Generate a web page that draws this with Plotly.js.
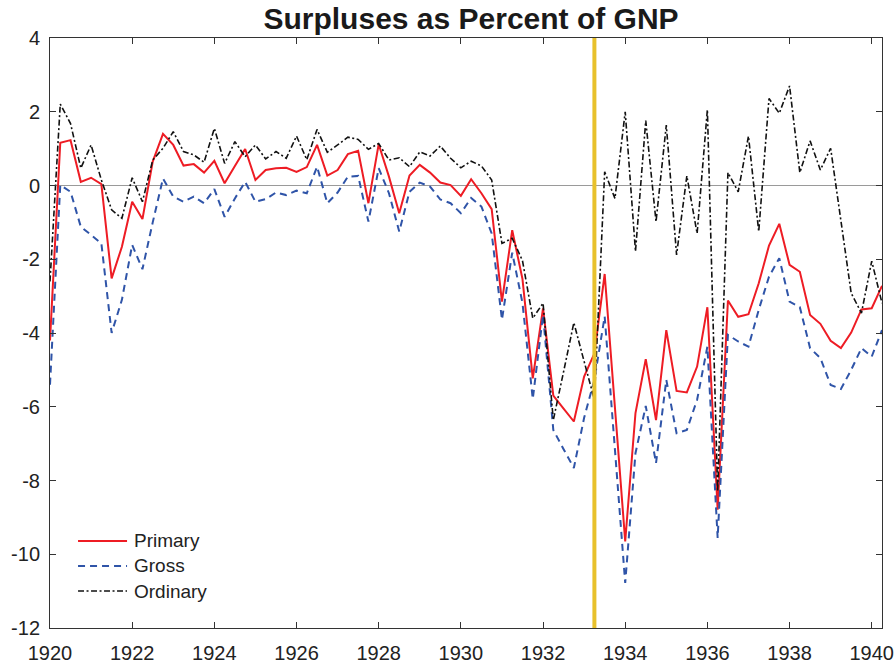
<!DOCTYPE html>
<html>
<head>
<meta charset="utf-8">
<script src="https://cdn.plot.ly/plotly-3.0.1.min.js"></script>
<style>html,body{margin:0;padding:0;background:#fff;}#chart{width:896px;height:666px;}</style>
</head>
<body>
<div id="chart"></div>
<script>
// Quarterly observations, first quarter 1920 through second quarter 1940
var startYear = 1920;
var seriesNames = ["Primary", "Gross", "Ordinary"];
var primary = [-4.2, 1.16, 1.23, 0.10, 0.21, 0.04, -2.52, -1.66, -0.44, -0.91,
  0.65, 1.40, 1.10, 0.54, 0.58, 0.35, 0.67, 0.06, 0.53, 0.99,
  0.15, 0.42, 0.47, 0.48, 0.37, 0.50, 1.10, 0.27, 0.42, 0.85,
  0.94, -0.48, 1.12, 0.24, -0.75, 0.27, 0.56, 0.35, 0.08, 0.01,
  -0.28, 0.17, -0.21, -0.64, -3.15, -1.21, -2.54, -5.23, -3.33, -5.70,
  -6.05, -6.40, -5.18, -4.55, -2.40, -6.0, -9.65, -6.17, -4.71, -6.36,
  -3.92, -5.57, -5.61, -4.91, -3.30, -8.79, -3.12, -3.56, -3.49, -2.65,
  -1.63, -1.04, -2.15, -2.34, -3.51, -3.75, -4.21, -4.41, -3.99, -3.36,
  -3.33, -2.72];
var gross = [-5.4, 0.01, -0.17, -1.12, -1.34, -1.57, -4.0, -3.1, -1.61, -2.27,
  -1.0, 0.19, -0.30, -0.44, -0.30, -0.48, -0.10, -0.85, -0.35, 0.10,
  -0.44, -0.37, -0.19, -0.26, -0.14, -0.21, 0.51, -0.48, -0.19, 0.24,
  0.26, -0.98, 0.47, -0.21, -1.25, -0.17, 0.08, -0.03, -0.38, -0.48,
  -0.75, -0.34, -0.57, -1.30, -3.64, -1.82, -3.19, -5.79, -3.51, -6.63,
  -7.15, -7.66, -6.3, -5.27, -3.55, -7.2, -10.78, -7.26, -5.98, -7.53,
  -5.27, -6.72, -6.63, -5.81, -4.37, -9.56, -4.05, -4.23, -4.37, -3.37,
  -2.47, -1.97, -3.15, -3.30, -4.41, -4.68, -5.41, -5.52, -5.00, -4.41,
  -4.64, -3.92];
var ordinary = [-2.6, 2.21, 1.68, 0.47, 1.10, 0.15, -0.66, -0.89, 0.21, -0.44,
  0.69, 1.01, 1.46, 0.92, 0.83, 0.63, 1.55, 0.60, 1.19, 0.78,
  1.10, 0.72, 0.92, 0.74, 1.34, 0.70, 1.52, 0.90, 1.10, 1.31,
  1.25, 0.98, 1.14, 0.69, 0.75, 0.51, 0.91, 0.80, 1.07, 0.74,
  0.48, 0.66, 0.53, 0.15, -1.57, -1.43, -2.04, -3.60, -3.19, -6.36,
  -5.05, -3.72, -4.77, -5.81, 0.37, -0.35, 2.00, -1.79, 1.76, -0.98,
  1.64, -1.88, 0.26, -1.30, 2.06, -8.3, 0.35, -0.17, 1.34, -1.25,
  2.36, 1.96, 2.70, 0.35, 1.21, 0.42, 1.01, -1.0, -2.92, -3.46,
  -2.05, -3.19];
var markerDate = [1933.25];
var xTickVals = [1920, 1922, 1924, 1926, 1928, 1930, 1932, 1934, 1936, 1938, 1940];
var xTickText = ["1920", "1922", "1924", "1926", "1928", "1930", "1932", "1934", "1936", "1938", "1940"];
var yTickVals = [-12, -10, -8, -6, -4, -2, 0, 2, 4];
var yTickText = ["-12", "-10", "-8", "-6", "-4", "-2", "0", "2", "4"];

var dates = primary.map(function (_, i) { return startYear + i / 4; });

var styles = [
  {color: "#ee1c24", width: 2, dash: "solid"},
  {color: "#2f54a8", width: 2, dash: "7px,5px"},
  {color: "#111111", width: 1.6, dash: "6px,2.5px,2px,2.5px"}
];
var values = [primary, gross, ordinary];

var traces = values.map(function (v, k) {
  return {x: dates, y: v, name: seriesNames[k], type: "scatter", mode: "lines",
          line: styles[k], showlegend: false};
});

// legend drawn as paper-anchored samples so the sample lines are long like the original
var legendRowsY = [0.1475, 0.1051, 0.0627];
var shapes = [
  {type: "line", xref: "x", yref: "y", x0: markerDate[0], x1: markerDate[0], y0: -12, y1: 4,
   line: {color: "#e8c12c", width: 4}, layer: "above"}
];
var annotations = [];
seriesNames.forEach(function (n, k) {
  shapes.push({type: "line", xref: "paper", yref: "paper", x0: 0.0337, x1: 0.0926,
               y0: legendRowsY[k], y1: legendRowsY[k], line: styles[k]});
  annotations.push({xref: "paper", yref: "paper", x: 0.0986, y: legendRowsY[k],
                    xanchor: "left", yanchor: "middle", text: n, showarrow: false,
                    font: {size: 19, color: "#222"}});
});

var layout = {
  width: 896, height: 666,
  margin: {l: 50, r: 14, t: 38, b: 38},
  paper_bgcolor: "#ffffff", plot_bgcolor: "#ffffff",
  font: {family: "Arial, 'Liberation Sans', sans-serif", size: 19, color: "#222"},
  title: {text: "<b>Surpluses as Percent of GNP</b>", font: {size: 30, color: "#1a1a1a"},
          x: 0.5257, xanchor: "center", y: 0.972, yanchor: "middle"},
  showlegend: false,
  xaxis: {range: [1920, 1940.25], tickvals: xTickVals, ticktext: xTickText,
          ticks: "inside", ticklen: 6, tickcolor: "#333", showgrid: false, zeroline: false,
          showline: true, linecolor: "#333", linewidth: 1, mirror: "ticks",
          ticklabelstandoff: 7, tickfont: {size: 20, color: "#222"}},
  yaxis: {range: [-12, 4], tickvals: yTickVals, ticktext: yTickText,
          ticks: "inside", ticklen: 6, tickcolor: "#333", showgrid: false,
          zeroline: true, zerolinecolor: "#9a9a9a", zerolinewidth: 1,
          showline: true, linecolor: "#333", linewidth: 1, mirror: "ticks",
          ticklabelstandoff: 5, tickfont: {size: 20, color: "#222"}},
  shapes: shapes,
  annotations: annotations
};

Plotly.newPlot("chart", traces, layout, {displayModeBar: false, staticPlot: true});
</script>
</body>
</html>
